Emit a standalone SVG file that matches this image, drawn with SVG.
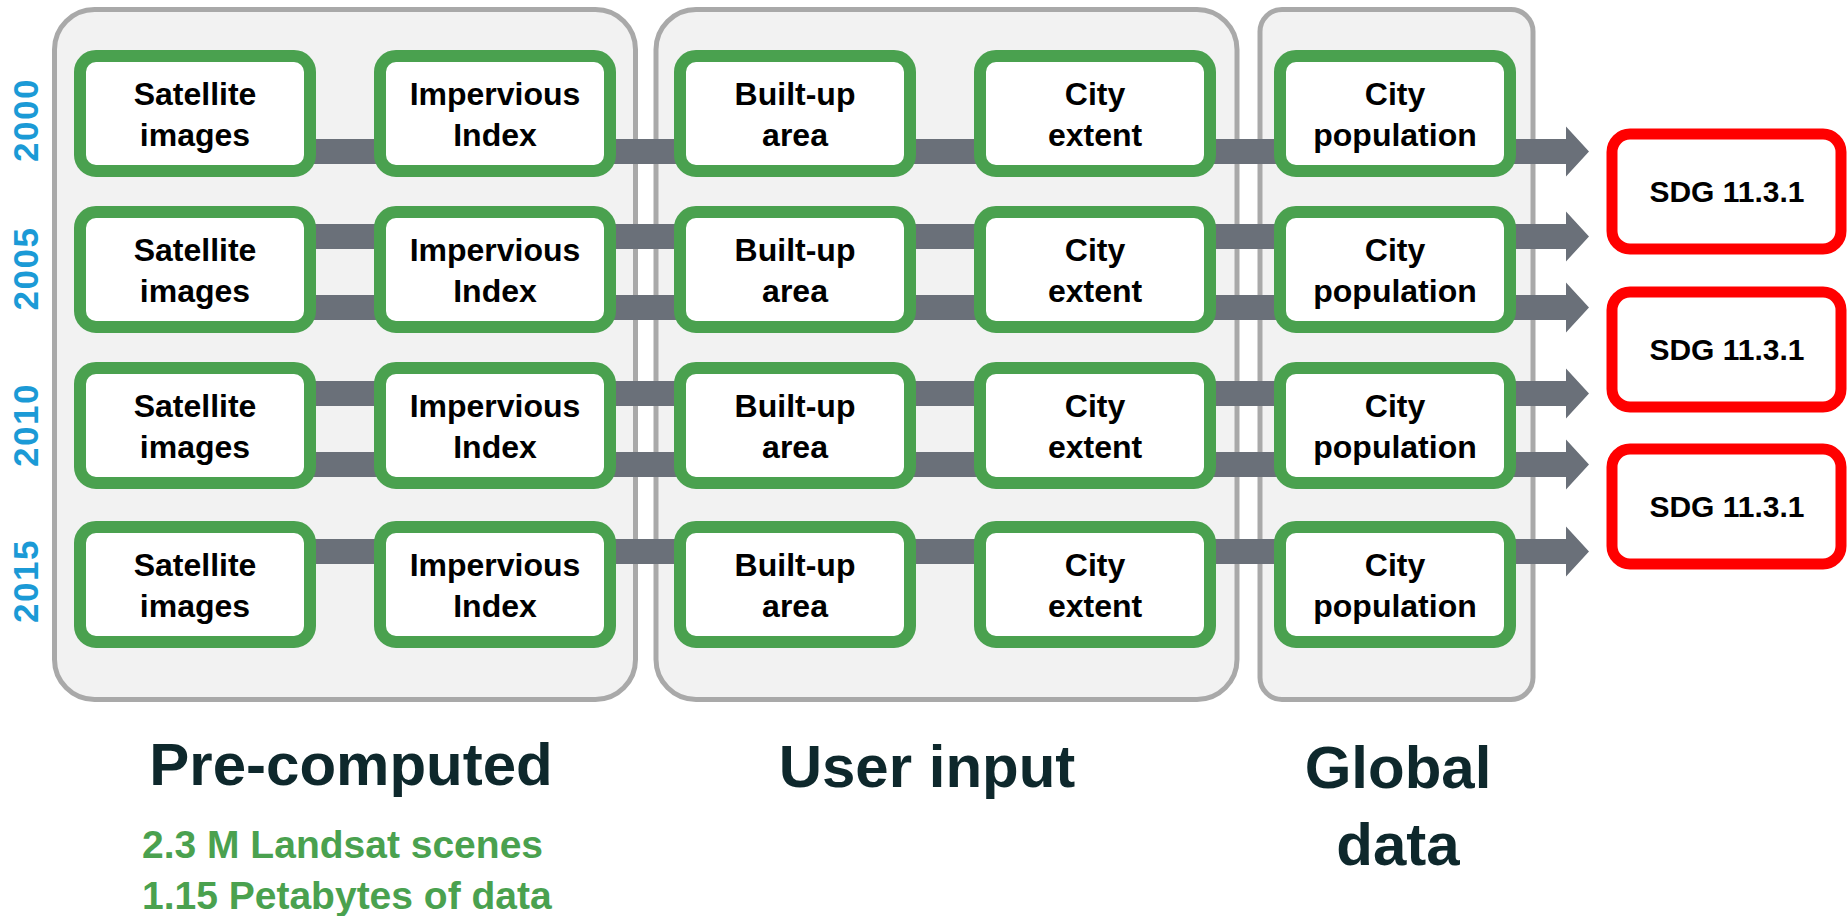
<svg xmlns="http://www.w3.org/2000/svg" width="1847" height="916" viewBox="0 0 1847 916">
<style>
.cont{fill:#f2f2f2;stroke:#a9a9a9;stroke-width:5}
.node rect{fill:#ffffff;stroke:#4aa14f;stroke-width:12}
.sdg rect{fill:#ffffff;stroke:#ff0000;stroke-width:11}
.lbl{font-family:"Liberation Sans",Arial,sans-serif;font-weight:bold;font-size:32px;fill:#000000;text-anchor:middle}
.sdgt{font-family:"Liberation Sans",Arial,sans-serif;font-weight:bold;font-size:30px;fill:#000000;text-anchor:middle}
.year{font-family:"Liberation Sans",Arial,sans-serif;font-weight:bold;font-size:35px;fill:#1b9ad6;text-anchor:middle;letter-spacing:1.5px}
.title{font-family:"Liberation Sans",Arial,sans-serif;font-weight:bold;font-size:60px;fill:#0e282c;text-anchor:middle}
.stat{font-family:"Liberation Sans",Arial,sans-serif;font-weight:bold;font-size:39px;fill:#4aa14f}
.bar{fill:#6a7079}
</style>
<g id="containers">
<rect id="precomputed" class="cont" x="54.5" y="9.5" width="581" height="690" rx="40"/>
<rect id="userinput" class="cont" x="656" y="9.5" width="581" height="690" rx="40"/>
<rect id="globaldata" class="cont" x="1260" y="9.5" width="273" height="690" rx="22"/>
</g>
<g id="connectors">
<path class="bar" d="M195,139 H1566 V126.5 L1589,151.5 L1566,176.5 V164 H195 Z"/>
<path class="bar" d="M195,224 H1566 V211.5 L1589,236.5 L1566,261.5 V249 H195 Z"/>
<path class="bar" d="M195,295 H1566 V282.5 L1589,307.5 L1566,332.5 V320 H195 Z"/>
<path class="bar" d="M195,381 H1566 V368.5 L1589,393.5 L1566,418.5 V406 H195 Z"/>
<path class="bar" d="M195,452 H1566 V439.5 L1589,464.5 L1566,489.5 V477 H195 Z"/>
<path class="bar" d="M195,539 H1566 V526.5 L1589,551.5 L1566,576.5 V564 H195 Z"/>
</g>
<g id="years">
<text class="year" transform="translate(37.5,120) rotate(-90)">2000</text>
<text class="year" transform="translate(37.5,268.5) rotate(-90)">2005</text>
<text class="year" transform="translate(37.5,425) rotate(-90)">2010</text>
<text class="year" transform="translate(37.5,581) rotate(-90)">2015</text>
</g>
<!-- Row 2000 -->
<g id="sat2000" class="node"><rect x="80" y="56" width="230" height="115" rx="16"/><text class="lbl" x="195" y="105">Satellite</text><text class="lbl" x="195" y="146">images</text></g>
<g id="imp2000" class="node"><rect x="380" y="56" width="230" height="115" rx="16"/><text class="lbl" x="495" y="105">Impervious</text><text class="lbl" x="495" y="146">Index</text></g>
<g id="bua2000" class="node"><rect x="680" y="56" width="230" height="115" rx="16"/><text class="lbl" x="795" y="105">Built-up</text><text class="lbl" x="795" y="146">area</text></g>
<g id="ext2000" class="node"><rect x="980" y="56" width="230" height="115" rx="16"/><text class="lbl" x="1095" y="105">City</text><text class="lbl" x="1095" y="146">extent</text></g>
<g id="pop2000" class="node"><rect x="1280" y="56" width="230" height="115" rx="16"/><text class="lbl" x="1395" y="105">City</text><text class="lbl" x="1395" y="146">population</text></g>
<!-- Row 2005 -->
<g id="sat2005" class="node"><rect x="80" y="212" width="230" height="115" rx="16"/><text class="lbl" x="195" y="261">Satellite</text><text class="lbl" x="195" y="302">images</text></g>
<g id="imp2005" class="node"><rect x="380" y="212" width="230" height="115" rx="16"/><text class="lbl" x="495" y="261">Impervious</text><text class="lbl" x="495" y="302">Index</text></g>
<g id="bua2005" class="node"><rect x="680" y="212" width="230" height="115" rx="16"/><text class="lbl" x="795" y="261">Built-up</text><text class="lbl" x="795" y="302">area</text></g>
<g id="ext2005" class="node"><rect x="980" y="212" width="230" height="115" rx="16"/><text class="lbl" x="1095" y="261">City</text><text class="lbl" x="1095" y="302">extent</text></g>
<g id="pop2005" class="node"><rect x="1280" y="212" width="230" height="115" rx="16"/><text class="lbl" x="1395" y="261">City</text><text class="lbl" x="1395" y="302">population</text></g>
<!-- Row 2010 -->
<g id="sat2010" class="node"><rect x="80" y="368" width="230" height="115" rx="16"/><text class="lbl" x="195" y="417">Satellite</text><text class="lbl" x="195" y="458">images</text></g>
<g id="imp2010" class="node"><rect x="380" y="368" width="230" height="115" rx="16"/><text class="lbl" x="495" y="417">Impervious</text><text class="lbl" x="495" y="458">Index</text></g>
<g id="bua2010" class="node"><rect x="680" y="368" width="230" height="115" rx="16"/><text class="lbl" x="795" y="417">Built-up</text><text class="lbl" x="795" y="458">area</text></g>
<g id="ext2010" class="node"><rect x="980" y="368" width="230" height="115" rx="16"/><text class="lbl" x="1095" y="417">City</text><text class="lbl" x="1095" y="458">extent</text></g>
<g id="pop2010" class="node"><rect x="1280" y="368" width="230" height="115" rx="16"/><text class="lbl" x="1395" y="417">City</text><text class="lbl" x="1395" y="458">population</text></g>
<!-- Row 2015 -->
<g id="sat2015" class="node"><rect x="80" y="527" width="230" height="115" rx="16"/><text class="lbl" x="195" y="576">Satellite</text><text class="lbl" x="195" y="617">images</text></g>
<g id="imp2015" class="node"><rect x="380" y="527" width="230" height="115" rx="16"/><text class="lbl" x="495" y="576">Impervious</text><text class="lbl" x="495" y="617">Index</text></g>
<g id="bua2015" class="node"><rect x="680" y="527" width="230" height="115" rx="16"/><text class="lbl" x="795" y="576">Built-up</text><text class="lbl" x="795" y="617">area</text></g>
<g id="ext2015" class="node"><rect x="980" y="527" width="230" height="115" rx="16"/><text class="lbl" x="1095" y="576">City</text><text class="lbl" x="1095" y="617">extent</text></g>
<g id="pop2015" class="node"><rect x="1280" y="527" width="230" height="115" rx="16"/><text class="lbl" x="1395" y="576">City</text><text class="lbl" x="1395" y="617">population</text></g>
<!-- SDG -->
<g id="sdg1" class="sdg"><rect x="1612" y="134" width="229" height="115" rx="18"/><text class="sdgt" x="1727" y="202">SDG 11.3.1</text></g>
<g id="sdg2" class="sdg"><rect x="1612" y="292" width="229" height="115" rx="18"/><text class="sdgt" x="1727" y="360">SDG 11.3.1</text></g>
<g id="sdg3" class="sdg"><rect x="1612" y="449" width="229" height="115" rx="18"/><text class="sdgt" x="1727" y="517">SDG 11.3.1</text></g>
<g id="captions">
<text class="title" x="351" y="785">Pre-computed</text>
<text class="stat" x="142" y="858">2.3 M Landsat scenes</text>
<text class="stat" x="142" y="909">1.15 Petabytes of data</text>
<text class="title" x="927" y="787">User input</text>
<text class="title" x="1398" y="788">Global</text>
<text class="title" x="1398" y="865">data</text>
</g>
</svg>
